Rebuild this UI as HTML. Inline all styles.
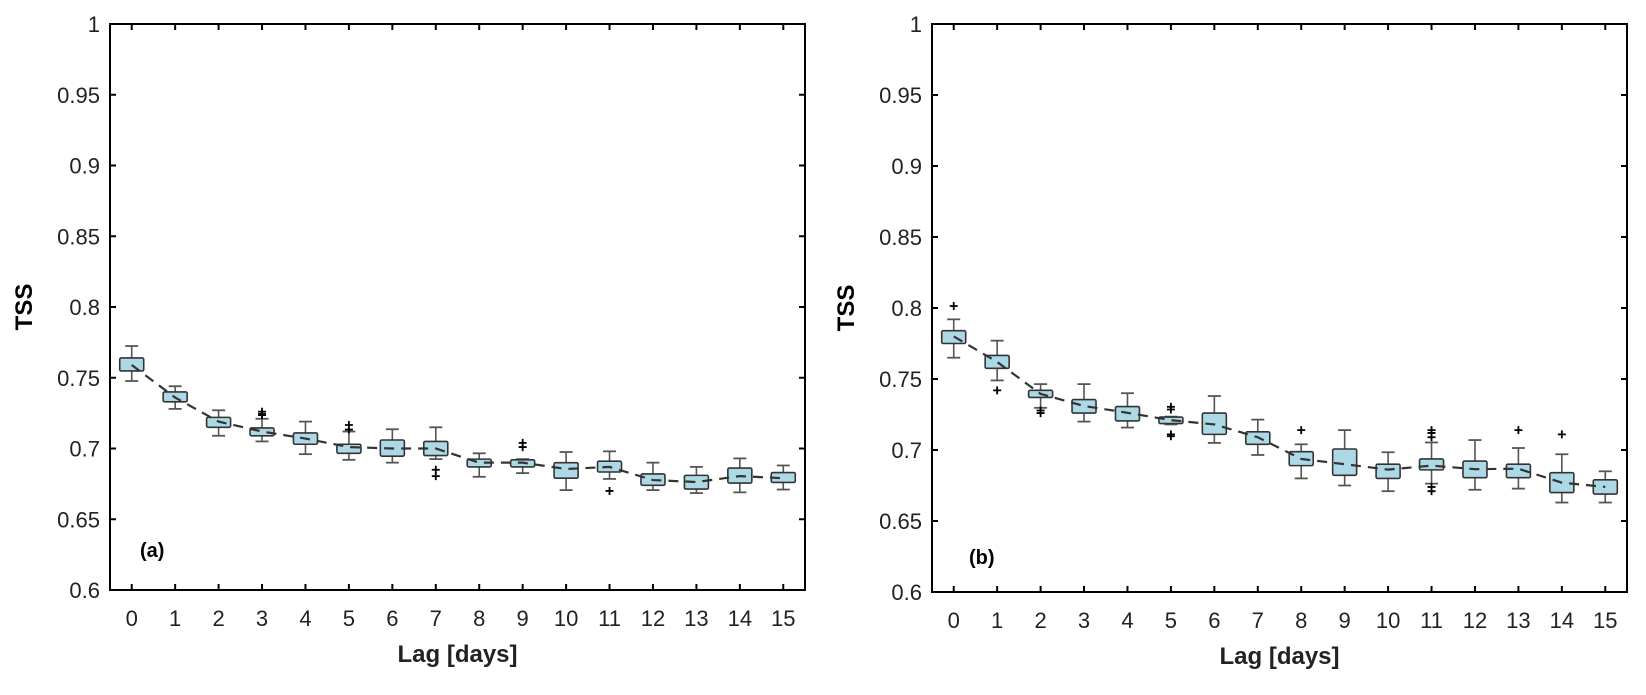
<!DOCTYPE html>
<html><head><meta charset="utf-8"><style>
body{margin:0;background:#fff;width:1646px;height:690px;overflow:hidden}
svg text{font-family:"Liberation Sans",Arial,sans-serif}
</style></head><body>
<svg id="chart" width="1646" height="690" xmlns="http://www.w3.org/2000/svg"></svg>
<script>
const lags=[0,1,2,3,4,5,6,7,8,9,10,11,12,13,14,15];
const yTicks=[0.6,0.65,0.7,0.75,0.8,0.85,0.9,0.95,1];
const yTickLabels=["0.6","0.65","0.7","0.75","0.8","0.85","0.9","0.95","1"];
// panel (a)
const aWhiskHi=[0.7724,0.744,0.727,0.721,0.719,0.712,0.7136,0.715,0.6966,0.6925,0.6975,0.698,0.690,0.687,0.693,0.688];
const aQ3=[0.764,0.740,0.722,0.7145,0.711,0.703,0.706,0.705,0.6925,0.692,0.690,0.691,0.682,0.681,0.6862,0.683];
const aMed=[0.759,0.736,0.719,0.712,0.707,0.701,0.700,0.700,0.690,0.690,0.6855,0.687,0.6777,0.6763,0.6805,0.679];
const aQ1=[0.7548,0.733,0.715,0.709,0.703,0.6966,0.6946,0.695,0.687,0.687,0.679,0.6834,0.674,0.6713,0.6756,0.676];
const aWhiskLo=[0.7477,0.728,0.709,0.705,0.696,0.692,0.690,0.6925,0.680,0.6826,0.6706,0.6785,0.6706,0.6685,0.669,0.671];
const aOutLag=[3,3,3,5,5,7,7,9,9,11];
const aOutVal=[0.726,0.7244,0.7236,0.7166,0.7134,0.685,0.6805,0.704,0.701,0.670];
// panel (b)
const bWhiskHi=[0.792,0.777,0.7464,0.7464,0.740,0.7235,0.738,0.7214,0.704,0.714,0.6984,0.7053,0.707,0.7014,0.697,0.685];
const bQ3=[0.784,0.7666,0.742,0.7355,0.7306,0.7232,0.726,0.7128,0.6988,0.7007,0.690,0.6937,0.6922,0.690,0.684,0.679];
const bMed=[0.780,0.762,0.7395,0.731,0.7262,0.721,0.718,0.709,0.6937,0.690,0.6862,0.689,0.6865,0.6868,0.677,0.674];
const bQ1=[0.775,0.7575,0.737,0.726,0.7205,0.7186,0.711,0.704,0.689,0.6822,0.680,0.686,0.6805,0.6805,0.670,0.669];
const bWhiskLo=[0.765,0.749,0.7297,0.720,0.7158,0.718,0.705,0.6965,0.680,0.675,0.671,0.6763,0.672,0.6728,0.663,0.663];
const bOutLag=[0,1,2,2,5,5,5,5,8,11,11,11,11,11,13,14];
const bOutVal=[0.8014,0.742,0.7278,0.726,0.7304,0.7285,0.711,0.7097,0.714,0.714,0.712,0.709,0.674,0.671,0.714,0.711];

const NS="http://www.w3.org/2000/svg";
const svg=document.getElementById('chart');
function mk(tag,attrs,parent){const e=document.createElementNS(NS,tag);for(const k in attrs)e.setAttribute(k,attrs[k]);(parent||svg).appendChild(e);return e;}

function panel(id,L,R,T,B,hi,q3,med,q1,lo,oLag,oVal,tag,tagX,tagY){
  const g=mk('g',{});
  
  
  const n=lags.length;
  const xs=i=>L+(i+0.5)*(R-L)/n;
  const ys=v=>B-(v-0.6)/0.4*(B-T);
  const frame=mk('rect',{x:L,y:T,width:R-L,height:B-T,fill:'none',stroke:'#000','stroke-width':2},g);
  
  
  yTicks.forEach((v,k)=>{
    const y=ys(v);
    const tk=mk('line',{x1:L,x2:L+6,y1:y,y2:y,stroke:'#000','stroke-width':2},g);
    
    
    mk('line',{x1:R,x2:R-6,y1:y,y2:y,stroke:'#000','stroke-width':2},g);
    const t=mk('text',{x:L-10,y:y+8,'text-anchor':'end','font-size':22,fill:'#222'},g);
    t.textContent=yTickLabels[k];
    
    
  });
  lags.forEach((c,i)=>{
    const x=xs(i);
    mk('line',{x1:x,x2:x,y1:B,y2:B-6,stroke:'#000','stroke-width':2},g);
    mk('line',{x1:x,x2:x,y1:T,y2:T+6,stroke:'#000','stroke-width':2},g);
    const t=mk('text',{x:x,y:B+36,'text-anchor':'middle','font-size':22,fill:'#222'},g);
    t.textContent=String(c);
    
    
  });
  const bw=24,cw=13;
  lags.forEach((c,i)=>{
    const x=xs(i);
    const bg=mk('g',{},g);
    
    
    mk('line',{x1:x,x2:x,y1:ys(hi[i]),y2:ys(q3[i]),stroke:'#555','stroke-width':1.6},bg);
    mk('line',{x1:x,x2:x,y1:ys(q1[i]),y2:ys(lo[i]),stroke:'#555','stroke-width':1.6},bg);
    mk('line',{x1:x-cw/2,x2:x+cw/2,y1:ys(hi[i]),y2:ys(hi[i]),stroke:'#555','stroke-width':1.8},bg);
    mk('line',{x1:x-cw/2,x2:x+cw/2,y1:ys(lo[i]),y2:ys(lo[i]),stroke:'#555','stroke-width':1.8},bg);
    mk('rect',{x:x-bw/2,y:ys(q3[i]),width:bw,height:Math.max(2,ys(q1[i])-ys(q3[i])),fill:'#add8e6',stroke:'#333','stroke-width':1.6,rx:1.5},bg);
  });
  let d='';
  lags.forEach((c,i)=>{d+=(i?'L':'M')+xs(i)+','+ys(med[i]);});
  const ln=mk('path',{d:d,fill:'none',stroke:'#333','stroke-width':2.2,'stroke-dasharray':'10,7'},g);
  
  
  oLag.forEach((c,k)=>{
    const x=xs(lags.indexOf(c)),y=ys(oVal[k]);
    const o=mk('path',{d:`M${x-4},${y}H${x+4}M${x},${y-4}V${y+4}`,stroke:'#000','stroke-width':1.8},g);
    
    
  });
  const yl=mk('text',{x:0,y:0,transform:`translate(${L-78},${(T+B)/2}) rotate(-90)`,'text-anchor':'middle','font-size':24,'font-weight':'bold',fill:'#000'},g);
  yl.textContent='TSS';
  
  
  const xl=mk('text',{x:(L+R)/2,y:B+72,'text-anchor':'middle','font-size':24,'font-weight':'bold',fill:'#222'},g);
  xl.textContent='Lag [days]';
  
  
  const pl=mk('text',{x:tagX,y:tagY,'font-size':20,'font-weight':'bold',fill:'#000'},g);
  pl.textContent=tag;
  
  
}
panel('a',110,805,24,590,aWhiskHi,aQ3,aMed,aQ1,aWhiskLo,aOutLag,aOutVal,'(a)',140,557);
panel('b',932,1627,24,592,bWhiskHi,bQ3,bMed,bQ1,bWhiskLo,bOutLag,bOutVal,'(b)',969,564);
</script>
</body></html>
